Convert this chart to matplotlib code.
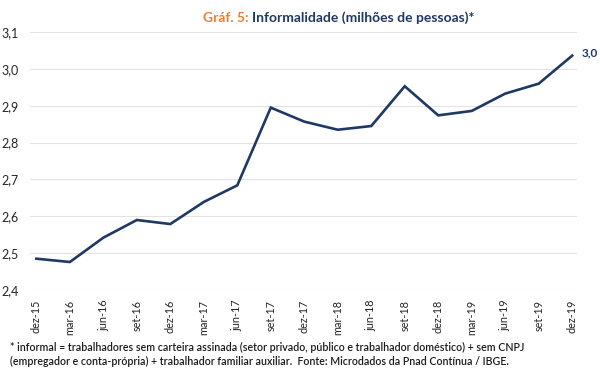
import matplotlib
matplotlib.use("Agg")
import matplotlib.pyplot as plt

# Informalidade (milhões de pessoas), trimestral
periodos = ["dez-15", "mar-16", "jun-16", "set-16", "dez-16", "mar-17", "jun-17",
            "set-17", "dez-17", "mar-18", "jun-18", "set-18", "dez-18", "mar-19",
            "jun-19", "set-19", "dez-19"]
informais = [2.485, 2.476, 2.542, 2.590, 2.579, 2.639, 2.684, 2.895, 2.857,
             2.835, 2.845, 2.953, 2.874, 2.886, 2.933, 2.960, 3.036]
y_ticks = [2.4, 2.5, 2.6, 2.7, 2.8, 2.9, 3.0, 3.1]
rotulo_final = "3,0"

navy = "#1f3864"
orange = "#ed7d31"
plt.rcParams["font.family"] = ["Lato", "DejaVu Sans"]

fig = plt.figure(figsize=(6, 3.73), dpi=100)
ax = fig.add_axes([0.05, 0.2225, 0.912, 0.6915])

x = list(range(len(periodos)))
ax.plot(x, informais, color=navy, lw=1.9, solid_joinstyle="miter")

ax.set_ylim(2.4, 3.1)
ax.set_xlim(-0.19, len(periodos) - 1 + 0.15)
ax.set_yticks(y_ticks)
ax.set_yticklabels([f"{v:.1f}".replace(".", ",") for v in y_ticks],
                   fontsize=9, color="#262626")
ax.set_xticks(x)
ax.set_xticklabels(periodos, rotation=90, fontsize=7.8, color="#262626")
ax.tick_params(length=0)
ax.tick_params(axis="x", pad=7)
ax.tick_params(axis="y", pad=8)
ax.grid(axis="y", color="#e3e3e3", lw=0.8)
ax.set_axisbelow(True)
for s in ax.spines.values():
    s.set_visible(False)

ax.annotate(rotulo_final, (x[-1], informais[-1]), xytext=(7, 2),
            textcoords="offset points", fontsize=8.5, fontweight="bold",
            color=navy, va="center", annotation_clip=False)

# Title in two colours, centred
t1 = fig.text(0, 0.952, "Gráf. 5: ", fontsize=10, fontweight="bold",
              color=orange, va="center")
t2 = fig.text(0, 0.952, "Informalidade (milhões de pessoas)*", fontsize=10,
              fontweight="bold", color=navy, va="center")
fig.canvas.draw()
r = fig.canvas.get_renderer()
w1 = t1.get_window_extent(r).width / fig.bbox.width
w2 = t2.get_window_extent(r).width / fig.bbox.width
x0 = 0.565 - (w1 + w2) / 2
t1.set_x(x0)
t2.set_x(x0 + w1)

fig.text(0.017, 0.05,
         "* informal = trabalhadores sem carteira assinada (setor privado, público e trabalhador doméstico) + sem CNPJ\n"
         "(empregador e conta-própria) + trabalhador familiar auxiliar.  Fonte: Microdados da Pnad Contínua / IBGE.",
         fontsize=7.7, fontweight="semibold", color="#1a1a1a", va="center",
         linespacing=1.3)

fig.savefig("out.png", dpi=100)
